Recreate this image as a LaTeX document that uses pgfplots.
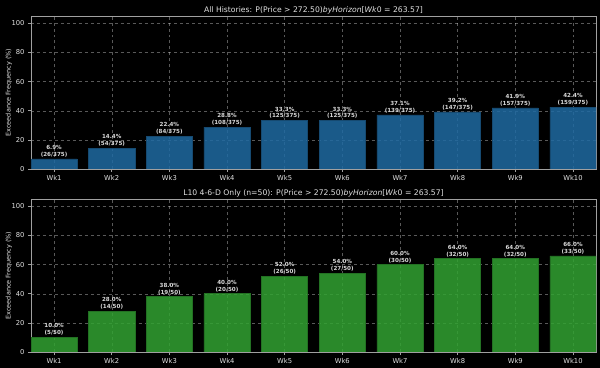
\documentclass[border=0pt]{standalone}
\usepackage{pgfplots}
\pgfplotsset{compat=1.18}
\usepackage{fontspec}
\setmainfont{DejaVu Sans}

\definecolor{barblue}{RGB}{31,106,162}
\definecolor{bargreen}{RGB}{50,162,50}
\definecolor{fg}{RGB}{225,225,225}
\definecolor{spine}{RGB}{160,160,160}

\pgfplotsset{
  panel/.style={
    scale only axis, width=565bp, height=153bp,
    xmin=-0.4, xmax=9.4, ymin=0, ymax=105,
    xtick={0,...,9},
    xticklabels={Wk1,Wk2,Wk3,Wk4,Wk5,Wk6,Wk7,Wk8,Wk9,Wk10},
    ytick={0,20,40,60,80,100},
    axis line style={spine, line width=0.6pt},
    tick style={spine, line width=0.5pt},
    tick align=outside, major tick length=3bp,
    xtick pos=left, ytick pos=left,
    grid=major,
    major grid style={dashed, white, opacity=0.35, line width=0.4pt},
    ticklabel style={font=\fontsize{6.8}{8}\selectfont, text=fg},
    /pgf/number format/assume math mode=true,
    ylabel={Exceedance Frequency (\%)},
    ylabel style={font=\fontsize{6.5}{7.5}\selectfont, text=fg,
                  at={(axis description cs:-0.039,0.5)}, anchor=center},
    title style={font=\fontsize{7.7}{9}\selectfont, text=fg,
                 at={(axis description cs:0.5,1)}, anchor=base, yshift=-2bp},
    ybar, bar width=0.8,
    nodes near coords={\pgfplotspointmeta},
    point meta=explicit symbolic,
    every node near coord/.append style={
      font=\bfseries\fontsize{5.6}{7}\selectfont, text=white,
      align=center, inner sep=1.5pt},
  },
}

\begin{document}
\begin{tikzpicture}
\fill[black] (0,0) rectangle (600bp,368bp);
\useasboundingbox (0,0) rectangle (600bp,368bp);

% all histories
\begin{axis}[panel, at={(31bp,199bp)}, anchor=south west,
  title={All Histories: P(Price > 272.50)\textit{byHorizon}[\textit{Wk}0 = 263.57]}]
\addplot[fill=barblue, fill opacity=0.85, draw=barblue!70!black, line width=0.5pt]
  coordinates {
    (0,6.9)  [6.9\%\\(26/375)]
    (1,14.4) [14.4\%\\(54/375)]
    (2,22.4) [22.4\%\\(84/375)]
    (3,28.8) [28.8\%\\(108/375)]
    (4,33.3) [33.3\%\\(125/375)]
    (5,33.3) [33.3\%\\(125/375)]
    (6,37.1) [37.1\%\\(139/375)]
    (7,39.2) [39.2\%\\(147/375)]
    (8,41.9) [41.9\%\\(157/375)]
    (9,42.4) [42.4\%\\(159/375)]
  };
\end{axis}

% L10 4-6-D subset
\begin{axis}[panel, at={(31bp,16bp)}, anchor=south west,
  title={L10 4-6-D Only (n=50): P(Price > 272.50)\textit{byHorizon}[\textit{Wk}0 = 263.57]}]
\addplot[fill=bargreen, fill opacity=0.85, draw=bargreen!70!black, line width=0.5pt]
  coordinates {
    (0,10.0) [10.0\%\\(5/50)]
    (1,28.0) [28.0\%\\(14/50)]
    (2,38.0) [38.0\%\\(19/50)]
    (3,40.0) [40.0\%\\(20/50)]
    (4,52.0) [52.0\%\\(26/50)]
    (5,54.0) [54.0\%\\(27/50)]
    (6,60.0) [60.0\%\\(30/50)]
    (7,64.0) [64.0\%\\(32/50)]
    (8,64.0) [64.0\%\\(32/50)]
    (9,66.0) [66.0\%\\(33/50)]
  };
\end{axis}
\end{tikzpicture}
\end{document}
